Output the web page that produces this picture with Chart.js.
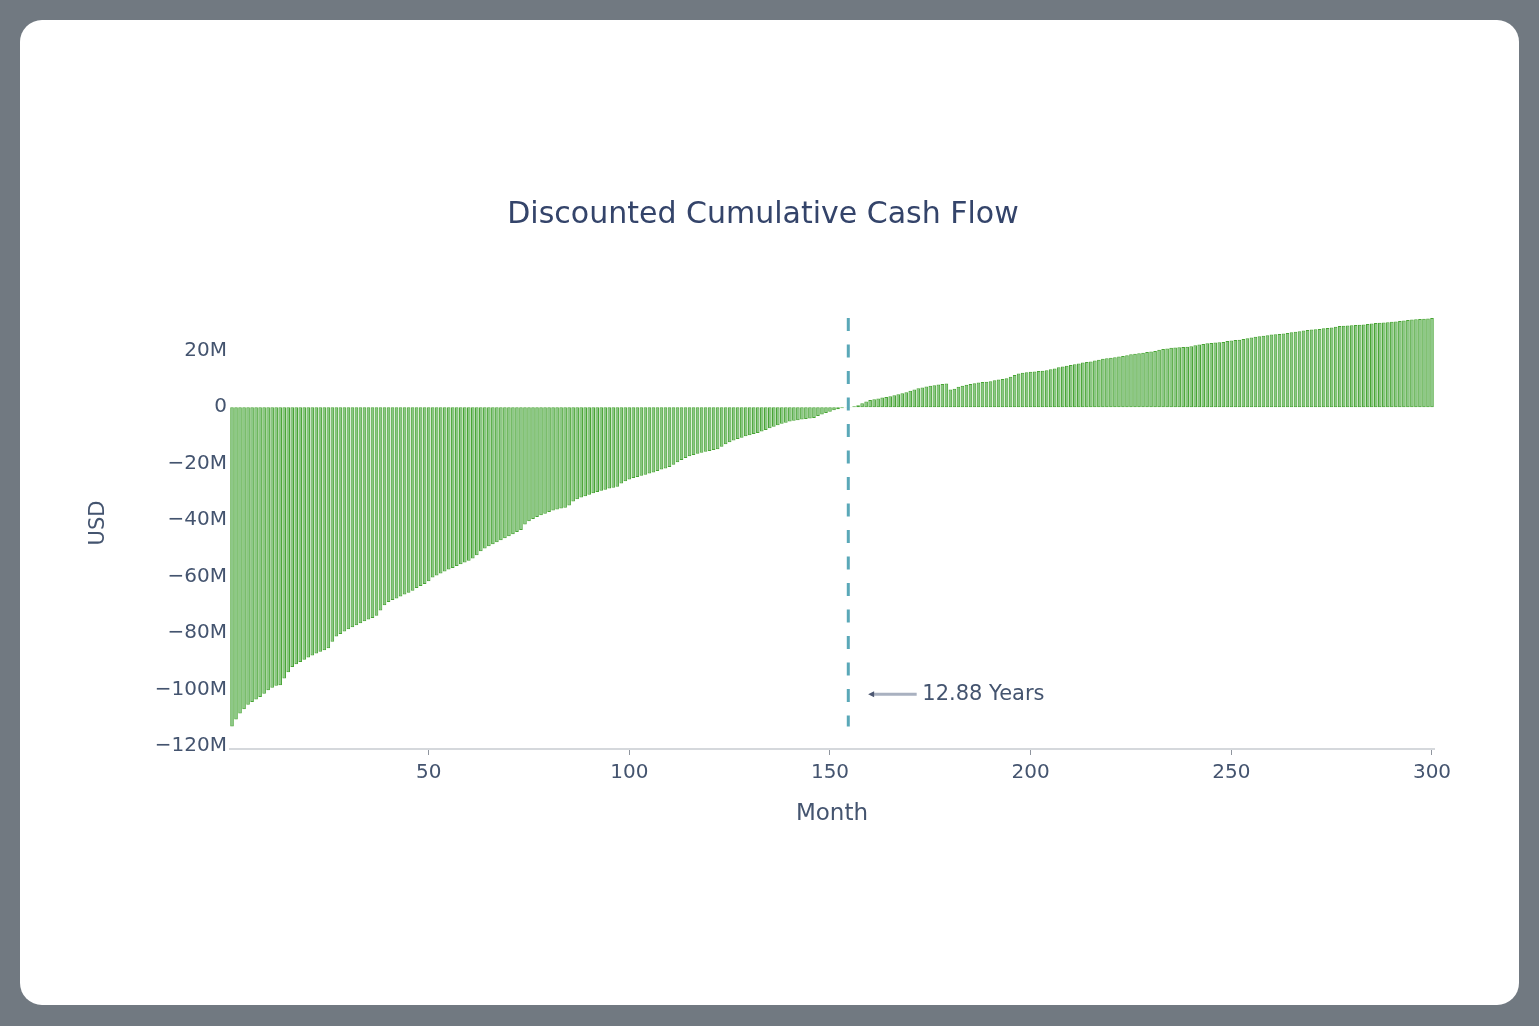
<!DOCTYPE html>
<html>
<head>
<meta charset="utf-8">
<title>Discounted Cumulative Cash Flow</title>
<script src="https://cdn.jsdelivr.net/npm/chart.js@4.4.1/dist/chart.umd.min.js"></script>
<style>
  html, body { margin: 0; padding: 0; }
  body { width: 1539px; height: 1026px; background: #717981; position: relative; overflow: hidden; }
  #card { position: absolute; left: 20px; top: 20px; width: 1499px; height: 985px; background: #fff; border-radius: 22px; }
  #chart { position: absolute; left: 0; top: 0; }
</style>
</head>
<body>
<div id="card"></div>
<canvas id="chart" width="1539" height="1026"></canvas>
<script>
// discounted cumulative cash flow per month, in millions of USD
const cashFlowM = [
  -113.0, -110.6, -108.4, -106.9, -105.3, -104.4, -103.5, -102.6, -101.4, -100.2,
  -99.3, -98.6, -98.4, -96.0, -93.8, -92.0, -91.0, -90.2, -89.4, -88.6,
  -87.9, -87.2, -86.6, -86.0, -85.3, -83.0, -81.2, -80.3, -79.4, -78.6,
  -77.9, -77.2, -76.5, -75.8, -75.2, -74.6, -73.8, -72.0, -70.1, -69.0,
  -68.3, -67.7, -67.0, -66.3, -65.7, -65.0, -64.0, -63.3, -62.6, -61.6,
  -60.3, -59.6, -58.9, -58.2, -57.5, -56.9, -56.2, -55.6, -55.0, -54.4,
  -53.6, -52.4, -51.0, -50.0, -49.2, -48.5, -47.8, -47.1, -46.4, -45.7,
  -45.0, -44.2, -43.5, -41.5, -40.4, -39.6, -38.9, -38.3, -37.7, -37.1,
  -36.6, -36.2, -35.9, -35.6, -34.8, -33.4, -32.6, -32.0, -31.5, -31.0,
  -30.5, -30.0, -29.6, -29.2, -28.8, -28.5, -28.2, -27.0, -26.2, -25.6,
  -25.1, -24.7, -24.3, -23.9, -23.5, -23.1, -22.6, -22.1, -21.7, -21.2,
  -20.4, -19.5, -18.7, -18.0, -17.4, -16.9, -16.5, -16.1, -15.8, -15.5,
  -15.2, -14.9, -14.0, -13.1, -12.4, -11.8, -11.3, -10.8, -10.3, -9.9,
  -9.5, -9.1, -8.6, -8.1, -7.5, -6.9, -6.4, -5.9, -5.5, -5.1,
  -4.8, -4.6, -4.4, -4.2, -4.0, -3.8, -3.1, -2.6, -2.1, -1.6,
  -1.1, -0.7, -0.4, -0.1, 0.1, 0.3, 0.7, 1.4, 2.0, 2.5,
  2.8, 3.1, 3.4, 3.6, 3.9, 4.2, 4.6, 4.9, 5.3, 5.8,
  6.3, 6.7, 7.0, 7.3, 7.6, 7.8, 8.0, 8.2, 8.4, 6.3,
  6.5, 7.2, 7.6, 7.9, 8.2, 8.5, 8.7, 8.9, 9.0, 9.2,
  9.5, 9.8, 10.0, 10.2, 10.8, 11.4, 11.9, 12.2, 12.4, 12.5,
  12.6, 12.8, 12.9, 13.1, 13.4, 13.7, 14.1, 14.4, 14.7, 14.9,
  15.2, 15.5, 15.8, 16.0, 16.2, 16.5, 16.8, 17.1, 17.3, 17.5,
  17.7, 17.9, 18.1, 18.4, 18.7, 18.9, 19.1, 19.3, 19.5, 19.7,
  19.9, 20.3, 20.6, 20.8, 21.0, 21.1, 21.2, 21.3, 21.4, 21.6,
  21.9, 22.2, 22.4, 22.6, 22.7, 22.9, 23.0, 23.1, 23.4, 23.6,
  23.8, 23.9, 24.1, 24.4, 24.7, 24.9, 25.1, 25.3, 25.5, 25.7,
  25.8, 25.9, 26.1, 26.3, 26.5, 26.7, 26.9, 27.1, 27.3, 27.5,
  27.6, 27.7, 27.9, 28.0, 28.2, 28.5, 28.7, 28.8, 28.9, 29.0,
  29.1, 29.2, 29.3, 29.4, 29.6, 29.8, 29.9, 30.0, 30.1, 30.2,
  30.3, 30.5, 30.7, 30.9, 31.0, 31.1, 31.2, 31.3, 31.4, 31.6
];
const months = cashFlowM.map((v, i) => i + 1);
const xTicks = [50, 100, 150, 200, 250, 300];
const yTicks = [-120, -100, -80, -60, -40, -20, 0, 20];
const chartTitle = 'Discounted Cumulative Cash Flow';
const paybackYears = 12.88;
const paybackMonth = paybackYears * 12;
// arrow of the note, in data units: tip, tail and where the text starts
const noteArrow = [159.5, 171.6];
const noteY = -101.6;
const noteTextX = 173.0;

const FONT = "'DejaVu Sans', sans-serif";
const TEXT = '#44546f';

const paybackPlugin = {
  id: 'payback',
  afterDatasetsDraw(chart) {
    const ctx = chart.ctx;
    const x = chart.scales.x, y = chart.scales.y;
    const px = x.getPixelForValue(paybackMonth);
    ctx.save();
    // dashed payback line from the highest to the lowest bar
    ctx.strokeStyle = '#5aa8b8';
    ctx.lineWidth = 3;
    ctx.setLineDash([13, 13.5]);
    ctx.beginPath();
    ctx.moveTo(px, y.getPixelForValue(Math.max(...cashFlowM)));
    ctx.lineTo(px, y.getPixelForValue(Math.min(...cashFlowM)));
    ctx.stroke();
    ctx.setLineDash([]);

    // note arrow
    const ay = y.getPixelForValue(noteY);
    const tip = x.getPixelForValue(noteArrow[0]);
    const tail = x.getPixelForValue(noteArrow[1]);
    ctx.strokeStyle = '#a9b1c0';
    ctx.lineWidth = 3;
    ctx.beginPath();
    ctx.moveTo(tip + 4, ay);
    ctx.lineTo(tail, ay);
    ctx.stroke();
    ctx.fillStyle = '#4d5872';
    ctx.beginPath();
    ctx.moveTo(tip, ay);
    ctx.lineTo(tip + 6, ay - 3);
    ctx.lineTo(tip + 6, ay + 3);
    ctx.closePath();
    ctx.fill();

    ctx.fillStyle = TEXT;
    ctx.font = "21px " + FONT;
    ctx.textBaseline = 'middle';
    ctx.textAlign = 'left';
    ctx.fillText(paybackYears.toFixed(2) + ' Years', x.getPixelForValue(noteTextX), ay);

    // chart title, centred on the figure rather than the plot
    ctx.fillStyle = '#34446a';
    ctx.font = "30px " + FONT;
    ctx.textAlign = 'center';
    ctx.fillText(chartTitle, 763, 215);
    ctx.restore();
  }
};

new Chart(document.getElementById('chart'), {
  type: 'bar',
  data: {
    datasets: [{
      label: chartTitle,
      data: months.map((m, i) => ({ x: m, y: cashFlowM[i] })),
      backgroundColor: 'rgba(60,160,50,0.6)',
      borderColor: 'rgb(72,165,52)',
      borderWidth: 1,
      borderSkipped: false,
      barPercentage: 0.9,
      categoryPercentage: 1
    }]
  },
  options: {
    responsive: false,
    animation: false,
    layout: { padding: { left: 70, right: 105, top: 297, bottom: 177 } },
    plugins: {
      legend: { display: false },
      tooltip: { enabled: false },
      title: { display: false }
    },
    scales: {
      x: {
        type: 'linear',
        offset: false,
        min: 0.5,
        max: 300.5,
        afterBuildTicks: s => { s.ticks = xTicks.map(v => ({ value: v })); },
        afterFit: s => { s.height = 100; },
        grid: { offset: false, drawOnChartArea: false, drawTicks: true, tickLength: 6, color: '#8f959e', lineWidth: 1 },
        border: { display: true, color: '#d5d8dc', width: 2 },
        ticks: { color: TEXT, font: { family: FONT, size: 20 }, padding: 6, maxRotation: 0, autoSkip: false },
        title: {
          display: true, text: 'Month', color: TEXT,
          font: { family: FONT, size: 23 }, padding: { top: 0, bottom: 21 }
        }
      },
      y: {
        min: -121,
        max: 39,
        afterBuildTicks: s => { s.ticks = yTicks.map(v => ({ value: v })); },
        afterFit: s => { s.width = 160; },
        grid: { display: false, drawTicks: false },
        border: { display: false },
        ticks: {
          color: TEXT, font: { family: FONT, size: 20 }, padding: 3,
          callback: v => v === 0 ? '0' : (v < 0 ? '\u2212' : '') + Math.abs(v) + 'M'
        },
        title: {
          display: true, text: 'USD', color: TEXT,
          font: { family: FONT, size: 21 }, padding: { top: 16, bottom: 0 }
        }
      }
    }
  },
  plugins: [paybackPlugin]
});
</script>
</body>
</html>
